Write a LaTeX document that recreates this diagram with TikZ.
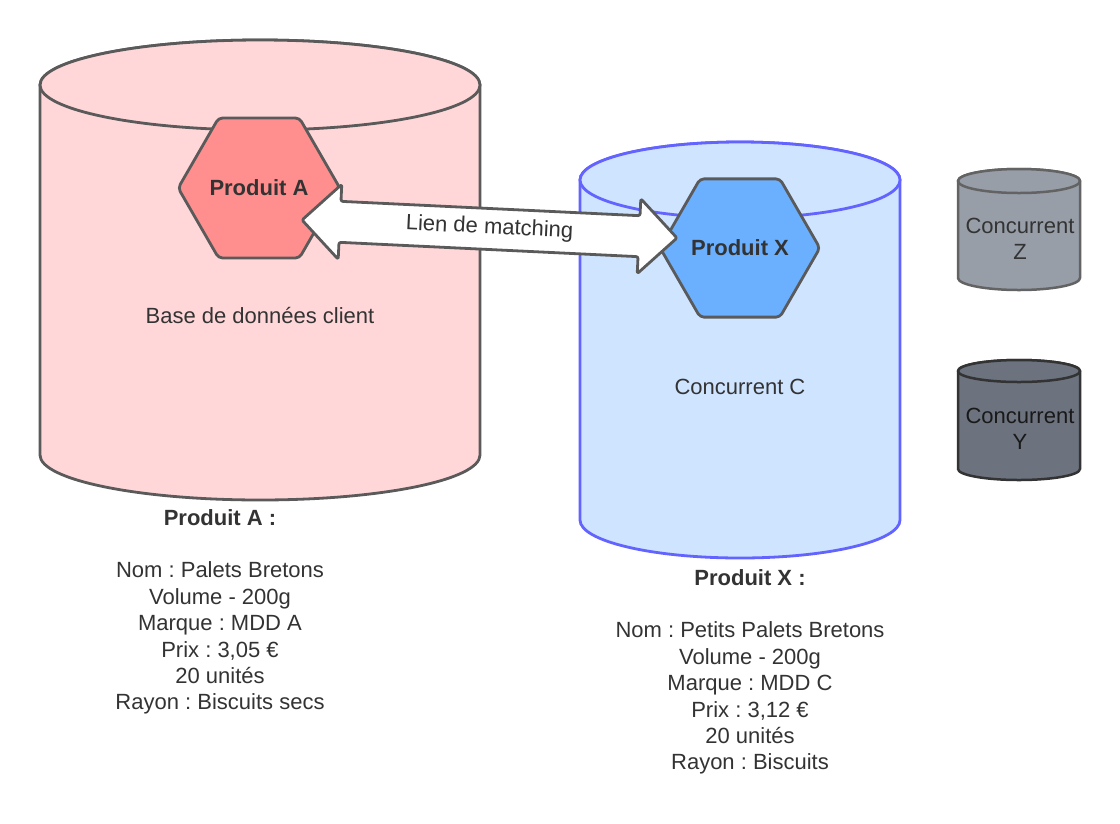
\documentclass[tikz,border=0pt]{standalone}
\usepackage{fontspec}
\setmainfont{Liberation Sans}
\frenchspacing
\usetikzlibrary{shapes.geometric}
\definecolor{pinkfill}{HTML}{FFD7D9}
\definecolor{grayline}{HTML}{5A5A5A}
\definecolor{hexA}{HTML}{FF8F8F}
\definecolor{hexX}{HTML}{6BB0FF}
\definecolor{bluefill}{HTML}{CFE4FF}
\definecolor{blueline}{HTML}{6363FF}
\definecolor{zfill}{HTML}{979EA8}
\definecolor{zline}{HTML}{636363}
\definecolor{yfill}{HTML}{6C727E}
\definecolor{yline}{HTML}{333333}
\definecolor{textgray}{HTML}{333333}
\newcommand\drawcyl[6]{%
  \filldraw[#6] (#1-#4,#2) -- (#1-#4,#3)
    arc[start angle=180,end angle=0,x radius=#4,y radius=#5]
    -- (#1+#4,#2)
    arc[start angle=0,end angle=-180,x radius=#4,y radius=#5] -- cycle;
  \filldraw[#6] (#1,#2) ellipse[x radius=#4,y radius=#5];
}
\tikzset{
  txt/.style={font=\fontsize{22}{26.4}\selectfont, text=textgray, inner sep=0pt},
  cylA/.style={fill=pinkfill, draw=grayline, line width=2.8pt, line join=round},
  cylC/.style={fill=bluefill, draw=blueline, line width=2.8pt, line join=round},
  cylZ/.style={fill=zfill, draw=zline, line width=2.5pt, line join=round},
  cylY/.style={fill=yfill, draw=yline, line width=2.5pt, line join=round},
  hexa/.style={regular polygon, regular polygon sides=6, minimum size=158pt,
    inner sep=0pt, draw=grayline, line width=2.8pt, rounded corners=4pt,
    font=\bfseries\fontsize{22}{26.4}\selectfont, text=textgray},
  linkarrow/.style={fill=white, draw=grayline, line width=2.8pt, rounded corners=2pt, line join=round},
}
\begin{document}
\begin{tikzpicture}[x=1pt,y=-1pt]
\useasboundingbox (0,0) rectangle (1120,823);
\fill[white] (0,0) rectangle (1120,823);

% cylinders
\drawcyl{260}{85}{455}{220}{45}{cylA}
\drawcyl{740}{180}{520}{160}{38}{cylC}
\drawcyl{1019}{181}{278}{61}{12}{cylZ}
\drawcyl{1019}{371}{469}{61}{11}{cylY}

% labels in cylinders
\node[txt] (baseA) at (260,315) {Base de données client};
\node[txt] (concC) at (740,387) {Concurrent C};
\node[txt, align=center] (concZ) at (1020,239) {Concurrent\\Z};
\node[txt, align=center, text=black!90] (concY) at (1020,429) {Concurrent\\Y};

% hexagons
\node[hexa, fill=hexA] (prodA) at (259,188) {Produit A};
\node[hexa, fill=hexX] (prodX) at (740,248) {Produit X};

% matching arrow
\begin{scope}[shift={(489.5,229)}, rotate=-2.75]
  \filldraw[linkarrow] (-187.7,0) -- (-149.7,-37.5) -- (-149.7,-20.5)
    -- (149.7,-20.5) -- (149.7,-37.5) -- (187.7,0) -- (149.7,37.5)
    -- (149.7,20.5) -- (-149.7,20.5) -- (-149.7,37.5) -- cycle;
  \node[txt, rotate=-2.75] (lien) at (0,-1) {Lien de matching};
\end{scope}

% product descriptions
\node[txt, align=center, anchor=north] (descA) at (220,509)
  {\textbf{Produit A :}\\[26.4pt]
   Nom : Palets Bretons\\ Volume - 200g\\ Marque : MDD A\\
   Prix : 3,05 €\\ 20 unités\\ Rayon : Biscuits secs};
\node[txt, align=center, anchor=north] (descX) at (750,569)
  {\textbf{Produit X :}\\[26.4pt]
   Nom : Petits Palets Bretons\\ Volume - 200g\\ Marque : MDD C\\
   Prix : 3,12 €\\ 20 unités\\ Rayon : Biscuits};
\end{tikzpicture}
\end{document}
